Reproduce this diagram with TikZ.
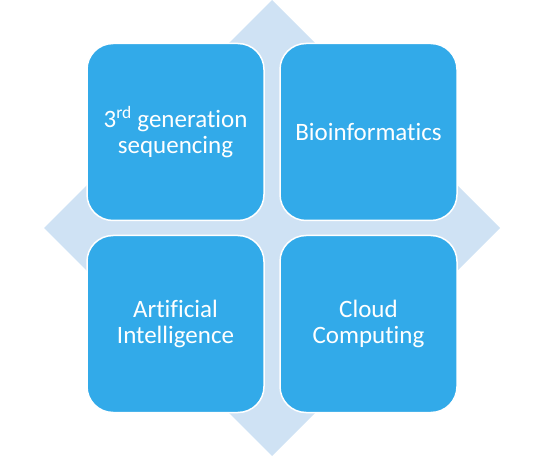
\documentclass[tikz,border=0pt]{standalone}
\usepackage{fontspec}
\setmainfont[Ligatures=CommonOff]{Carlito}
\definecolor{boxc}{RGB}{50,170,233}
\definecolor{diamc}{RGB}{207,226,244}
\begin{document}
\begin{tikzpicture}[x=1pt,y=1pt,
  tile/.style={draw=white, line width=1.5pt, fill=boxc, rounded corners=26pt,
    minimum width=177pt, minimum height=177pt, inner sep=0pt,
    text=white, align=center, font=\fontsize{25}{26}\selectfont}]
\useasboundingbox (0,0) rectangle (544,456);
\fill[diamc] (272,456) -- (500,228) -- (272,0) -- (44,228) -- cycle;
\node[tile] (tl) at (175.5,324) {3\textsuperscript{rd} generation\\sequencing};
\node[tile] (tr) at (368.5,324) {Bioinformatics};
\node[tile] (bl) at (175.5,132) {Artificial\\Intelligence};
\node[tile] (br) at (368.5,132) {Cloud\\Computing};
\end{tikzpicture}
\end{document}
